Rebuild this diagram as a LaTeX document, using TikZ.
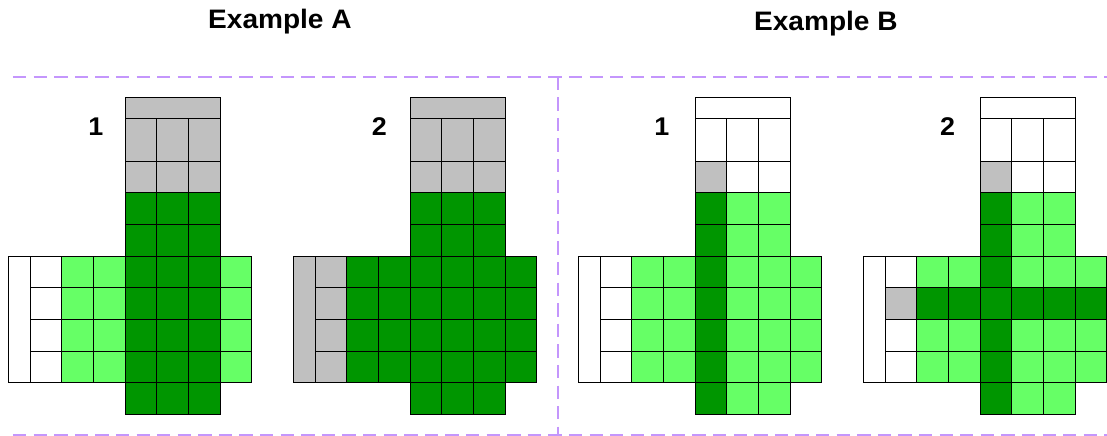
\documentclass[tikz,border=0pt]{standalone}
\usepackage{fontspec}
\newfontfamily\labelfont{Liberation Sans}[FakeStretch=1.05]
\usetikzlibrary{positioning}

\definecolor{darkgr}{RGB}{0,150,0}
\definecolor{lightgr}{RGB}{102,255,102}
\definecolor{shade}{RGB}{192,192,192}
\definecolor{sepcol}{RGB}{196,150,252}

% one unit square of a panel
\newcommand{\sq}[3]{\filldraw[cell, fill=#3] (#1,#2) rectangle ++(1,1);}

\begin{document}
\begin{tikzpicture}[
  cell/.style={draw=black, line width=0.8pt},
  sepline/.style={sepcol, line width=1.7pt, dash pattern=on 12pt off 6.5pt},
  title/.style={font=\fontsize{24}{28}\selectfont\labelfont\bfseries, inner sep=0pt},
  num/.style={font=\fontsize{23}{27}\selectfont\labelfont\bfseries, inner sep=0pt}
]
  \useasboundingbox (0,0) rectangle (34.957,13.768);

  % Titles
  \node[title] (titleA) at (8.84,13.10) {Example A};
  \node[title] (titleB) at (26.08,13.01) {Example B};

  % Separators
  \coordinate (sepL) at (0.41,11.347);
  \coordinate (sepR) at (34.957,11.347);
  \coordinate (sepM) at (17.61,11.347);
  \draw[sepline] (sepL) -- (sepR);
  \draw[sepline] (sepM) -- (17.61,0);
  \draw[sepline] (0.41,0.04) -- (34.957,0.04);

  % Panel A1
  \begin{scope}[shift={(3.947,1.683)}]
    \filldraw[cell, fill=shade] (0,8.333) rectangle (3,9);
    \foreach \x in {0,1,2} {
      \filldraw[cell, fill=shade] (\x,7) rectangle ++(1,1.333);
      \sq{\x}{6}{shade}
      \foreach \y in {-1,...,5} {\sq{\x}{\y}{darkgr}}
    }
    \filldraw[cell, fill=white] (-3.667,0) rectangle (-3,4);
    \foreach \y in {0,...,3} {
      \sq{-3}{\y}{white} \sq{-2}{\y}{lightgr} \sq{-1}{\y}{lightgr} \sq{3}{\y}{lightgr}
    }
    \node[num] (numA1) at (-0.92,8.08) {1};
  \end{scope}

  % Panel A2
  \begin{scope}[shift={(12.947,1.683)}]
    \filldraw[cell, fill=shade] (0,8.333) rectangle (3,9);
    \foreach \x in {0,1,2} {
      \filldraw[cell, fill=shade] (\x,7) rectangle ++(1,1.333);
      \sq{\x}{6}{shade}
      \foreach \y in {-1,...,5} {\sq{\x}{\y}{darkgr}}
    }
    \filldraw[cell, fill=shade] (-3.667,0) rectangle (-3,4);
    \foreach \y in {0,...,3} {
      \sq{-3}{\y}{shade} \sq{-2}{\y}{darkgr} \sq{-1}{\y}{darkgr} \sq{3}{\y}{darkgr}
    }
    \node[num] (numA2) at (-0.97,8.08) {2};
  \end{scope}

  % Panel B1
  \begin{scope}[shift={(21.947,1.683)}]
    \filldraw[cell, fill=white] (0,8.333) rectangle (3,9);
    \foreach \x in {0,1,2} {
      \filldraw[cell, fill=white] (\x,7) rectangle ++(1,1.333);
    }
    \sq{0}{6}{shade} \sq{1}{6}{white} \sq{2}{6}{white}
    \foreach \y in {-1,...,5} {
      \sq{0}{\y}{darkgr} \sq{1}{\y}{lightgr} \sq{2}{\y}{lightgr}
    }
    \filldraw[cell, fill=white] (-3.667,0) rectangle (-3,4);
    \foreach \y in {0,...,3} {
      \sq{-3}{\y}{white} \sq{-2}{\y}{lightgr} \sq{-1}{\y}{lightgr} \sq{3}{\y}{lightgr}
    }
    \node[num] (numB1) at (-1.05,8.08) {1};
  \end{scope}

  % Panel B2
  \begin{scope}[shift={(30.947,1.683)}]
    \filldraw[cell, fill=white] (0,8.333) rectangle (3,9);
    \foreach \x in {0,1,2} {
      \filldraw[cell, fill=white] (\x,7) rectangle ++(1,1.333);
    }
    \sq{0}{6}{shade} \sq{1}{6}{white} \sq{2}{6}{white}
    \foreach \y in {-1,...,5} {
      \sq{0}{\y}{darkgr} \sq{1}{\y}{lightgr} \sq{2}{\y}{lightgr}
    }
    \filldraw[cell, fill=white] (-3.667,0) rectangle (-3,4);
    \foreach \y in {0,...,3} {
      \sq{-3}{\y}{white} \sq{-2}{\y}{lightgr} \sq{-1}{\y}{lightgr} \sq{3}{\y}{lightgr}
    }
    % dark row across the arm
    \sq{-3}{2}{shade}
    \foreach \x in {-2,...,3} {\sq{\x}{2}{darkgr}}
    \node[num] (numB2) at (-1.02,8.08) {2};
  \end{scope}
\end{tikzpicture}
\end{document}
